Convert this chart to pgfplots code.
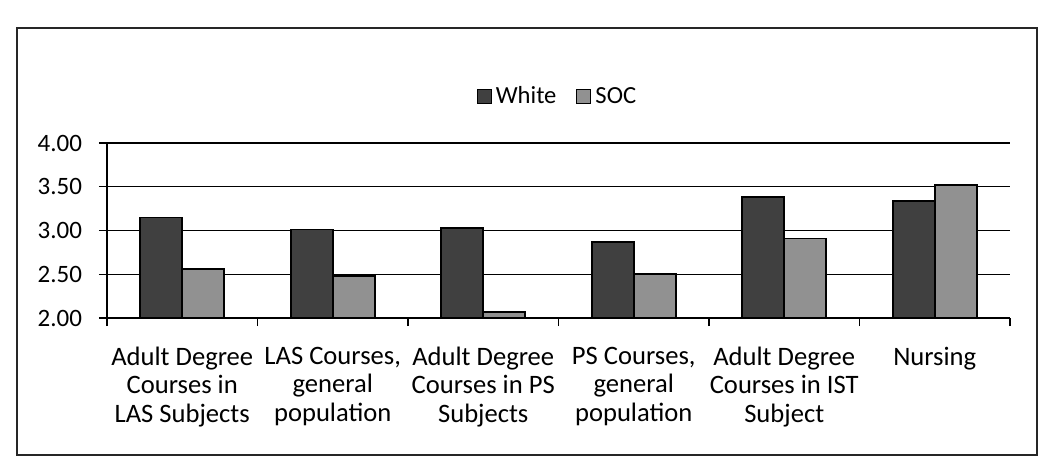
\documentclass[border=0pt]{standalone}
\usepackage{pgfplots}
\pgfplotsset{compat=1.18}
\usepackage{fontspec}
\setmainfont{Carlito}
\definecolor{whitebar}{RGB}{64,64,64}
\definecolor{socbar}{RGB}{145,145,145}
\begin{document}
\begin{tikzpicture}
\path (-53.5pt,-75pt) rectangle (466pt,159pt);
\draw[line width=0.8pt,black!85] (-45pt,-68.5pt) rectangle (465pt,145pt);
\begin{axis}[
  at={(0pt,0pt)}, anchor=south west,
  scale only axis,
  width=451.5pt, height=87.5pt,
  ymin=2, ymax=4,
  xmin=-0.5, xmax=5.5,
  ytick={2,2.5,3,3.5,4},
  xtick={0,1,2,3,4,5},
  xticklabels={{Adult Degree\\Courses in\\LAS Subjects},{LAS Courses,\\general\\population},{Adult Degree\\Courses in PS\\Subjects},{PS Courses,\\general\\population},{Adult Degree\\Courses in IST\\Subject},{Nursing}},
  minor xtick={-0.5,0.5,1.5,2.5,3.5,4.5,5.5},
  major x tick style={draw=none},
  minor x tick style={black,line width=0.6pt},
  minor tick length=4pt,
  major tick length=4pt,
  tick align=outside,
  ytick style={black,line width=0.6pt},
  axis x line*=bottom,
  axis y line*=left,
  axis line style={black,line width=0.7pt},
  ymajorgrids,
  grid style={black,line width=0.6pt},
  ybar=0pt,
  bar width=21pt,
  yticklabel style={font=\fontsize{12.5}{14}\selectfont,xshift=-5pt,/pgf/number format/fixed,/pgf/number format/precision=2,/pgf/number format/fixed zerofill,/pgf/number format/assume math mode=true},
  xticklabel style={font=\fontsize{13.3}{14.2}\selectfont,align=center,anchor=north,yshift=-7pt},
  legend style={at={(0.5,1)},anchor=south,yshift=14pt,draw=none,fill=none,font=\fontsize{12.3}{14}\selectfont,/tikz/every even column/.append style={column sep=8pt}},
  legend columns=2,
  legend image code/.code={\draw[#1,line width=0.5pt] (0pt,-3.5pt) rectangle (7pt,3.5pt);},
]
\addplot[fill=whitebar,draw=black,line width=0.8pt] coordinates {(0,3.15) (1,3.01) (2,3.03) (3,2.87) (4,3.38) (5,3.34)};
\addplot[fill=socbar,draw=black,line width=0.8pt] coordinates {(0,2.56) (1,2.48) (2,2.07) (3,2.50) (4,2.91) (5,3.52)};
\legend{White,SOC}
\end{axis}
\end{tikzpicture}
\end{document}
